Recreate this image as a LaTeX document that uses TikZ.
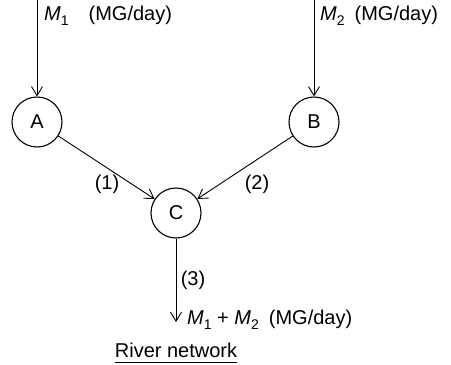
\documentclass[tikz,border=0pt]{standalone}
\usepackage{fontspec}
\setmainfont{Liberation Sans}
\usetikzlibrary{arrows.meta}
\tikzset{
  station/.style={draw, circle, line width=1.1pt, minimum size=50pt, inner sep=0pt, font=\fontsize{20}{24}\selectfont},
  flow/.style={line width=0.9pt, -{Straight Barb[length=9pt,width=11pt,line width=0.9pt]}},
  lbl/.style={font=\fontsize{20}{24}\selectfont, inner sep=0pt}
}
\newcommand{\Mi}[1]{\textit{M}\raisebox{-0.45ex}{\fontsize{14}{14}\selectfont #1}}
\begin{document}
\begin{tikzpicture}[x=1pt,y=-1pt]
\useasboundingbox (0,0) rectangle (451,365);
\node[station] (A) at (37,122) {A};
\node[station] (B) at (314,122) {B};
\node[station] (C) at (176,213) {C};
\coordinate (inA) at (37,0);
\coordinate (inB) at (314,0);
\coordinate (out) at (176,322);
\draw[flow] (inA) -- (A);
\draw[flow] (inB) -- (B);
\draw[flow] (A) -- (C);
\draw[flow] (B) -- (C);
\draw[flow] (C) -- (out);
\node[lbl, anchor=west] (l1) at (44,16) {\Mi{1}\quad(MG/day)};
\node[lbl, anchor=west] (l2) at (320,16) {\Mi{2}\enspace(MG/day)};
\node[lbl] (n1) at (107,184) {(1)};
\node[lbl] (n2) at (257,184) {(2)};
\node[lbl] (n3) at (193,280) {(3)};
\node[lbl, anchor=west] (lout) at (187,320) {\Mi{1} + \Mi{2}\enspace(MG/day)};
\node[lbl] (rn) at (176,350) {River network};
\draw[line width=1pt] ([yshift=-5pt]rn.south west) -- ([yshift=-5pt]rn.south east);
\end{tikzpicture}
\end{document}
